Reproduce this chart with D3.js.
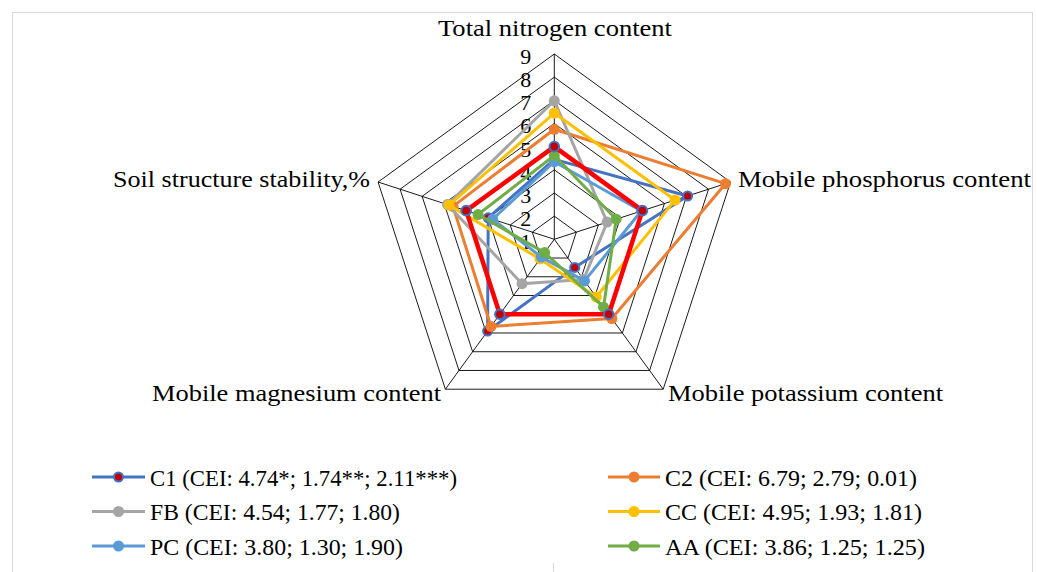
<!DOCTYPE html>
<html>
<head>
<meta charset="utf-8">
<script src="https://cdn.jsdelivr.net/npm/d3@7"></script>
<style>
  html, body { margin: 0; padding: 0; background: #fff; }
  svg { display: block; }
  text { font-family: "Liberation Serif", "DejaVu Serif", serif; fill: #000; }
</style>
</head>
<body>
<svg id="chart" width="1037" height="572"></svg>
<script>
// ---------- data ----------
const axes = ["Total nitrogen content", "Mobile phosphorus content", "Mobile potassium content", "Mobile magnesium content", "Soil structure stability,%"];
const tickValues = [1, 2, 3, 4, 5, 6, 7, 8, 9];
const seriesNames = ["C1 (CEI: 4.74*; 1.74**; 2.11***)", "C2 (CEI: 6.79; 2.79; 0.01)", "FB (CEI: 4.54; 1.77; 1.80)", "CC (CEI: 4.95; 1.93; 1.81)", "PC (CEI: 3.80; 1.30; 1.90)", "AA (CEI: 3.86; 1.25; 1.25)"];
const c1Values = [4.45, 7.05, 2.5, 5.9, 4.0];
const c2Values = [5.75, 8.77, 5.23, 5.65, 5.6];
const fbValues = [6.98, 3.4, 3.15, 3.37, 5.85];
const ccValues = [6.45, 6.48, 4.08, 2.05, 5.78];
const pcValues = [4.35, 4.95, 3.22, 1.95, 3.8];
const aaValues = [4.62, 3.81, 4.62, 1.71, 4.46];
const referenceValues = [5, 5, 5, 5, 5];

// ---------- styling ----------
const colors = ["#4472C4", "#ED7D31", "#A5A5A5", "#FFC000", "#5B9BD5", "#70AD47"];
const seriesValues = [c1Values, c2Values, fbValues, ccValues, pcValues, aaValues];
// rendered text widths (to emulate the wider original serif face)
const axisLabelWidths = [234, 293, 275, 289, 257];
const legendWidths = [307, 252, 250, 257, 253, 260];

const svg = d3.select("#chart");
const cx = 554.3, cy = 239.3, R = 185.3;

// frame
svg.append("rect").attr("x", 12.5).attr("y", 12.5).attr("width", 1020).attr("height", 600)
  .attr("fill", "none").attr("stroke", "#d9d9d9").attr("stroke-width", 1);
svg.append("line").attr("x1", 553.5).attr("x2", 553.5).attr("y1", 563).attr("y2", 572)
  .attr("stroke", "#d9d9d9");

const r = d3.scaleLinear().domain([1, 9]).range([0, R]);
const n = axes.length;
const angle = i => -Math.PI / 2 + i * 2 * Math.PI / n;
const pt = (v, i) => [cx + r(v) * Math.cos(angle(i)), cy + r(v) * Math.sin(angle(i))];

const lineGen = d3.line().curve(d3.curveLinearClosed);

// grid rings
const g = svg.append("g");
tickValues.filter(v => v > 1).forEach(v => {
  g.append("path").attr("d", lineGen(d3.range(n).map(i => pt(v, i))))
    .attr("fill", "none").attr("stroke", "#000").attr("stroke-width", 0.9);
});
// spokes
d3.range(n).forEach(i => {
  const p = pt(9, i);
  g.append("line").attr("x1", cx).attr("y1", cy).attr("x2", p[0]).attr("y2", p[1])
    .attr("stroke", "#000").attr("stroke-width", 0.9);
});

// tick labels
tickValues.forEach(v => {
  svg.append("text").attr("x", cx - 23).attr("y", cy - r(v) + 2.5)
    .attr("text-anchor", "end").attr("dominant-baseline", "central")
    .attr("font-size", 22).text(v);
});

// axis labels
const labelPos = [
  {x: 555, y: 36, anchor: "middle"},
  {x: 738, y: 187, anchor: "start"},
  {x: 668, y: 401, anchor: "start"},
  {x: 441, y: 401, anchor: "end"},
  {x: 370, y: 187, anchor: "end"}
];
axes.forEach((a, i) => {
  svg.append("text").attr("x", labelPos[i].x).attr("y", labelPos[i].y)
    .attr("text-anchor", labelPos[i].anchor).attr("font-size", 22.5)
    .attr("textLength", axisLabelWidths[i]).attr("lengthAdjust", "spacingAndGlyphs")
    .text(a);
});

// series
function drawSeries(vals, color, width, markerFill, markerStroke, rad) {
  const pts = vals.map((v, i) => pt(v, i));
  svg.append("path").attr("d", lineGen(pts)).attr("fill", "none")
    .attr("stroke", color).attr("stroke-width", width).attr("stroke-linejoin", "round");
  svg.append("g").selectAll("circle").data(pts).join("circle")
    .attr("cx", d => d[0]).attr("cy", d => d[1]).attr("r", rad)
    .attr("fill", markerFill).attr("stroke", markerStroke).attr("stroke-width", markerStroke === "none" ? 0 : 2);
}
seriesValues.forEach((vals, k) => {
  if (k === 0) drawSeries(vals, colors[0], 3, "#C00000", colors[0], 4.5);
  else drawSeries(vals, colors[k], 3, colors[k], "none", 5.5);
});
drawSeries(referenceValues, "#FF0000", 4.5, "#C00000", "#4472C4", 4.8);

// legend
const legRows = [477, 511.5, 546];
const legCols = [{x1: 92, x2: 145, tx: 150}, {x1: 608, x2: 660, tx: 665}];
seriesNames.forEach((name, k) => {
  const col = legCols[k % 2], row = legRows[Math.floor(k / 2)];
  const lg = svg.append("g");
  lg.append("line").attr("x1", col.x1).attr("x2", col.x2).attr("y1", row).attr("y2", row)
    .attr("stroke", colors[k]).attr("stroke-width", 3);
  const mx = (col.x1 + col.x2) / 2;
  if (k === 0) lg.append("circle").attr("cx", mx).attr("cy", row).attr("r", 4.5)
    .attr("fill", "#C00000").attr("stroke", colors[0]).attr("stroke-width", 2);
  else lg.append("circle").attr("cx", mx).attr("cy", row).attr("r", 5.5).attr("fill", colors[k]);
  lg.append("text").attr("x", col.tx).attr("y", row + 1).attr("dominant-baseline", "central")
    .attr("font-size", 22.5).attr("textLength", legendWidths[k]).attr("lengthAdjust", "spacingAndGlyphs")
    .text(name);
});
</script>
</body>
</html>
